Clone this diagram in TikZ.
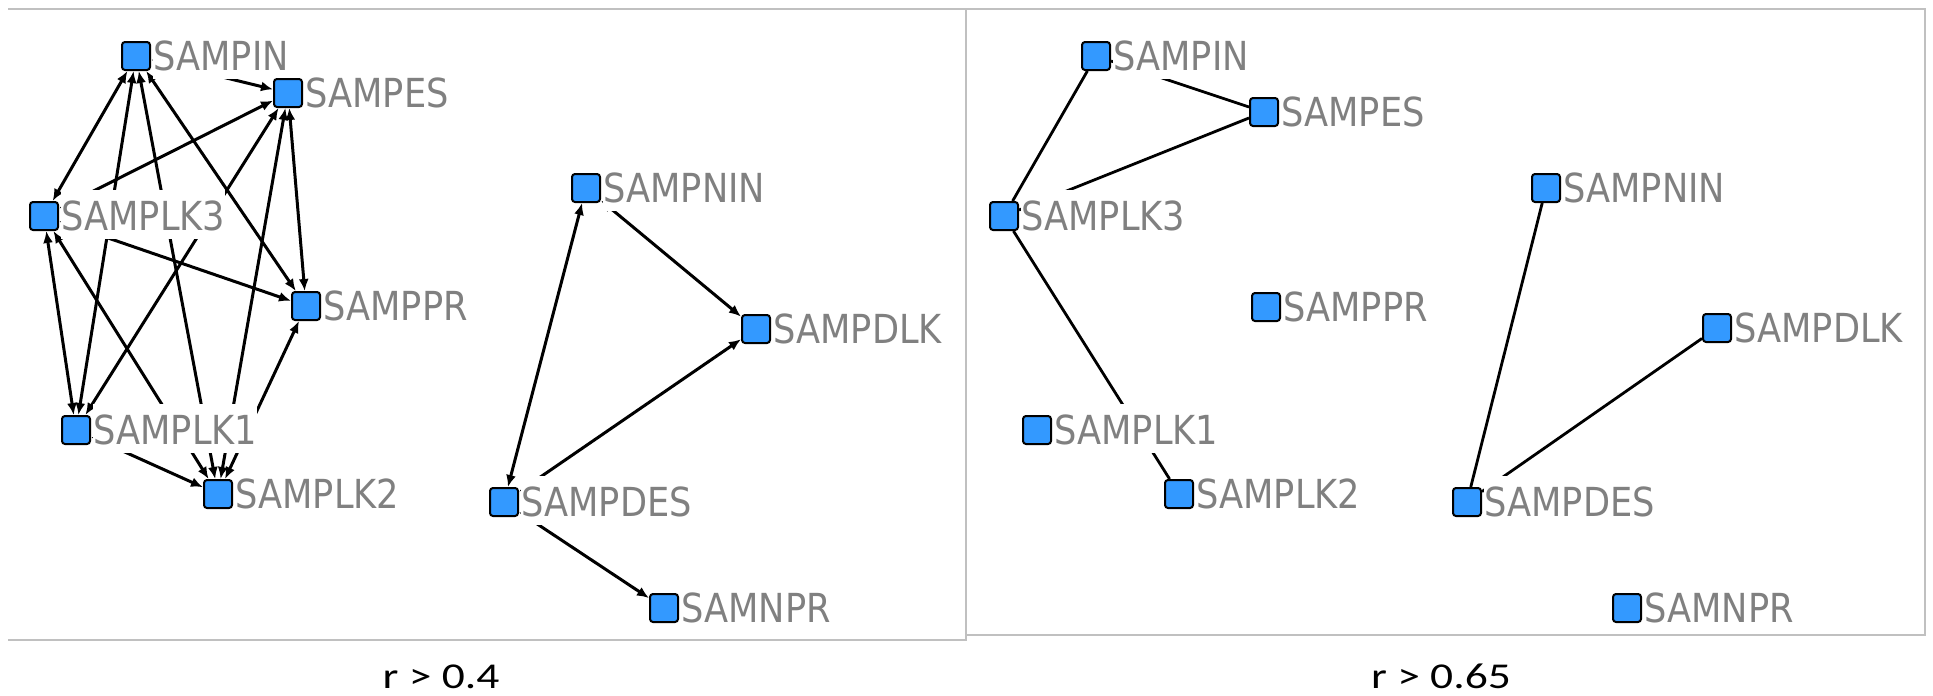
\documentclass[tikz,border=0pt]{standalone}
\usepackage{fontspec}
\usepackage{xcolor}
\newfontfamily\netfont[FakeStretch=0.88]{DejaVu Sans}
\newfontfamily\capfont[FakeStretch=1.25]{Carlito}
\usetikzlibrary{arrows.meta}

\definecolor{nodeblue}{RGB}{51,153,255}
\definecolor{labelgray}{RGB}{128,128,128}
\definecolor{framegray}{RGB}{192,192,192}

\pgfdeclarelayer{edges}
\pgfsetlayers{edges,main}

\tikzset{
  sq/.style={draw=black, line width=1pt, fill=nodeblue, rounded corners=1.5pt,
    minimum size=14pt, inner sep=0pt},
  lbl/.style={fill=white, text=labelgray, font=\netfont\fontsize{20}{24}\selectfont,
    inner sep=0pt, text height=20.5pt, text depth=4pt,
    anchor=base west, xshift=1pt, yshift=-7.3pt},
  link/.style={line width=1.5pt,
    {Latex[length=6pt,width=5pt]}-{Latex[length=6pt,width=5pt]}},
  tie/.style={line width=1.4pt},
  frame/.style={draw=framegray, line width=1.25pt},
  caption/.style={font=\capfont\fontsize{18.2}{22}\selectfont, anchor=base}
}

\begin{document}
\begin{tikzpicture}[x=0.5pt, y=-0.5pt]
  \useasboundingbox (0,0) rectangle (1933,696);

  % panel frames
  \draw[frame] (8,9) -- (1925,9) -- (1925,635) -- (966,635);
  \draw[frame] (966,9) -- (966,640) -- (8,640);

  % nodes: square + label
  \foreach \n/\x/\y/\t in {
      lIN/136/56/SAMPIN, lES/288/93/SAMPES, lLK3/44/216/SAMPLK3,
      lPR/306/306/SAMPPR, lLK1/76/430/SAMPLK1, lLK2/218/494/SAMPLK2,
      lNIN/586/188/SAMPNIN, lDLK/756/329/SAMPDLK, lDES/504/502/SAMPDES,
      lNPR/664/608/SAMNPR,
      rIN/1096/56/SAMPIN, rES/1264/112/SAMPES, rLK3/1004/216/SAMPLK3,
      rPR/1266/307/SAMPPR, rLK1/1037/430/SAMPLK1, rLK2/1179/494/SAMPLK2,
      rNIN/1546/188/SAMPNIN, rDLK/1717/328/SAMPDLK, rDES/1467/502/SAMPDES,
      rNPR/1627/608/SAMNPR}{
    \node[sq] (\n) at (\x,\y) {};
    \node[lbl] (\n-t) at (\n.east) {\t};
  }

  % links (under the labels)
  \begin{pgfonlayer}{edges}
    \foreach \a/\b in {lIN/lES, lIN/lLK3, lIN/lLK1, lIN/lLK2, lIN/lPR,
        lES/lLK3, lES/lLK1, lES/lLK2, lES/lPR, lLK3/lPR, lLK3/lLK1,
        lLK3/lLK2, lLK1/lLK2, lLK2/lPR,
        lNIN/lDES, lNIN/lDLK, lDES/lDLK, lDES/lNPR}
      \draw[link] (\a) -- (\b);
    \foreach \a/\b in {rIN/rES, rIN/rLK3, rLK3/rES, rLK3/rLK2,
        rNIN/rDES, rDLK/rDES}
      \draw[tie] (\a) -- (\b);
  \end{pgfonlayer}

  \node[caption] (capL) at (441,688) {r > 0.4};
  \node[caption] (capR) at (1441,688) {r > 0.65};
\end{tikzpicture}
\end{document}
